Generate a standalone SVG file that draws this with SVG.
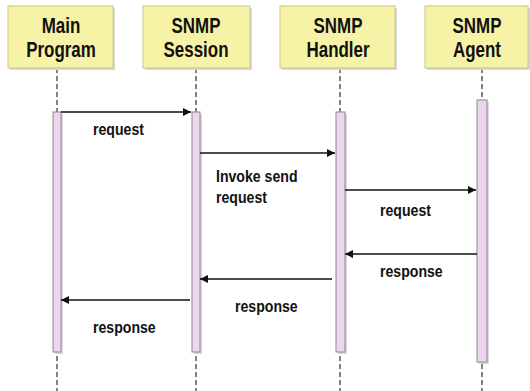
<svg xmlns="http://www.w3.org/2000/svg" width="530" height="391" viewBox="0 0 530 391">
  <style>
    .box { fill: #f7f3a6; stroke: #c9c38a; stroke-width: 1; }
    .shadow { fill: #d8d8d8; }
    .head { font-family: "Liberation Sans", Arial, sans-serif; font-weight: bold; font-size: 22px; fill: #111; text-anchor: middle; }
    .life { stroke: #333; stroke-width: 1.2; stroke-dasharray: 5 3; fill: none; }
    .act { fill: #ecd5ee; stroke: #8a8a8a; stroke-width: 1; }
    .msg { stroke: #111; stroke-width: 1.6; fill: none; marker-end: url(#arrow); }
    .lbl { font-family: "Liberation Sans", Arial, sans-serif; font-weight: bold; font-size: 17px; fill: #111; }
  </style>
  <defs>
    <marker id="arrow" viewBox="0 0 10 10" refX="10" refY="5" markerWidth="8" markerHeight="8" markerUnits="userSpaceOnUse" orient="auto">
      <path d="M0,0 L10,5 L0,10 z" fill="#111"/>
    </marker>
  </defs>
  <rect width="530" height="391" fill="#ffffff"/>

  <!-- lifelines -->
  <g id="lifelines">
    <line class="life" x1="57" y1="68" x2="57" y2="391"/>
    <line class="life" x1="196" y1="68" x2="196" y2="391"/>
    <line class="life" x1="340" y1="68" x2="340" y2="391"/>
    <line class="life" x1="482" y1="68" x2="482" y2="391"/>
  </g>

  <g id="main-program">
    <rect class="shadow" x="10" y="8" width="105" height="62"/>
    <rect class="box" x="8" y="6" width="105" height="62"/>
    <text class="head" transform="translate(61,33) scale(0.77,1)">Main</text>
    <text class="head" transform="translate(61,57) scale(0.77,1)">Program</text>
    <rect class="shadow" x="55" y="114" width="8" height="240"/>
    <rect class="act" x="53" y="112" width="8" height="240"/>
  </g>

  <g id="snmp-session">
    <rect class="shadow" x="145" y="8" width="107" height="62"/>
    <rect class="box" x="143" y="6" width="107" height="62"/>
    <text class="head" transform="translate(196,33) scale(0.77,1)">SNMP</text>
    <text class="head" transform="translate(196,57) scale(0.77,1)">Session</text>
    <rect class="shadow" x="194" y="114" width="8" height="240"/>
    <rect class="act" x="192" y="112" width="8" height="240"/>
  </g>

  <g id="snmp-handler">
    <rect class="shadow" x="282" y="8" width="115" height="62"/>
    <rect class="box" x="280" y="6" width="115" height="62"/>
    <text class="head" transform="translate(338,33) scale(0.77,1)">SNMP</text>
    <text class="head" transform="translate(338,57) scale(0.77,1)">Handler</text>
    <rect class="shadow" x="338" y="114" width="9" height="240"/>
    <rect class="act" x="336" y="112" width="9" height="240"/>
  </g>

  <g id="snmp-agent">
    <rect class="shadow" x="427" y="8" width="103" height="62"/>
    <rect class="box" x="425" y="6" width="103" height="62"/>
    <text class="head" transform="translate(477,33) scale(0.77,1)">SNMP</text>
    <text class="head" transform="translate(477,57) scale(0.77,1)">Agent</text>
    <rect class="shadow" x="479" y="102" width="10" height="262"/>
    <rect class="act" x="477" y="100" width="10" height="262"/>
  </g>

  <!-- messages -->
  <g id="connectors">
    <line class="msg" x1="61" y1="112" x2="191" y2="112"/>
    <line class="msg" x1="200" y1="153" x2="335" y2="153"/>
    <line class="msg" x1="345" y1="190" x2="476" y2="190"/>
    <line class="msg" x1="477" y1="254" x2="345" y2="254"/>
    <line class="msg" x1="332" y1="279" x2="200" y2="279"/>
    <line class="msg" x1="190" y1="300" x2="61" y2="300"/>
  </g>

  <g id="labels">
    <text class="lbl" transform="translate(93,135) scale(0.83,1)">request</text>
    <text class="lbl" transform="translate(216,182) scale(0.83,1)">Invoke send</text>
    <text class="lbl" transform="translate(216,203) scale(0.83,1)">request</text>
    <text class="lbl" transform="translate(380,216) scale(0.83,1)">request</text>
    <text class="lbl" transform="translate(380,277) scale(0.83,1)">response</text>
    <text class="lbl" transform="translate(235,312) scale(0.83,1)">response</text>
    <text class="lbl" transform="translate(93,333) scale(0.83,1)">response</text>
  </g>
</svg>
